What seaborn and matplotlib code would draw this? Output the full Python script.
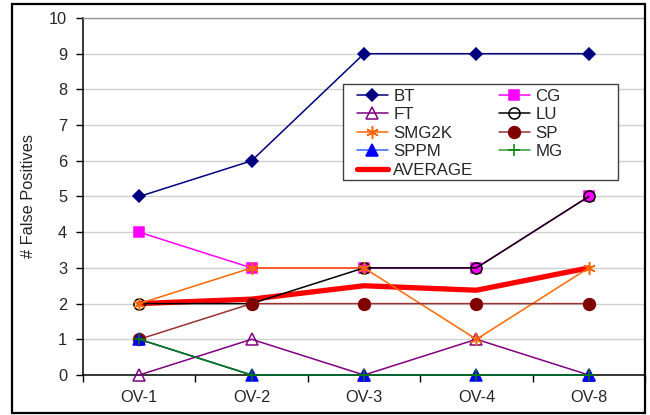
import matplotlib
matplotlib.use('Agg')
import matplotlib.pyplot as plt
from matplotlib.patches import Rectangle
from matplotlib.ticker import FixedLocator
import seaborn as sns

sns.set_style('white')
plt.rcParams['font.family'] = ['Liberation Sans', 'DejaVu Sans']

# data
runs = ['OV-1', 'OV-2', 'OV-3', 'OV-4', 'OV-8']
bt = [5, 6, 9, 9, 9]
cg = [4, 3, 3, 3, 5]
ft = [0, 1, 0, 1, 0]
lu = [2, 2, 3, 3, 5]
smg2k = [2, 3, 3, 1, 3]
sp = [1, 2, 2, 2, 2]
sppm = [1, 0, 0, 0, 0]
mg = [1, 0, 0, 0, 0]
average = [2.0, 2.125, 2.5, 2.375, 3.0]

FS = 11.8
W, H = 650, 415

fig = plt.figure(figsize=(6.5, 4.15), dpi=100)
ax = fig.add_axes([83 / W, 40 / H, 562 / W, 357 / H])

# (name, values, line color, marker, marker size, face, edge)
series = [
    ('BT', bt, '#000080', 'D', 6.5, '#000080', '#000080'),
    ('CG', cg, '#ff00ff', 's', 7.5, '#ff00ff', '#ff00ff'),
    ('FT', ft, '#800080', '^', 8, 'none', '#800080'),
    ('LU', lu, '#000000', 'o', 8, 'none', '#000000'),
    ('SMG2K', smg2k, '#ff6600', (6, 2, 0), 9, '#ff6600', '#ff6600'),
    ('SP', sp, '#993333', 'o', 8.5, '#800000', '#800000'),
    ('SPPM', sppm, '#3366ff', '^', 8.5, '#0000ff', '#0000ff'),
    ('MG', mg, '#339933', '+', 8, '#008000', '#008000'),
]

sns.lineplot(x=runs, y=average, ax=ax, color='#ff0000', lw=3.8,
             label='AVERAGE', legend=False, errorbar=None, sort=False,
             zorder=2.8, clip_on=False)

for name, vals, col, mk, ms, fc, ec in series:
    sns.lineplot(x=runs, y=vals, ax=ax, color=col, lw=1.1, marker=mk,
                 markersize=ms, markerfacecolor=fc, markeredgecolor=ec,
                 markeredgewidth=1.1, label=name, legend=False,
                 errorbar=None, sort=False, zorder=3, clip_on=False)

# data lines for MG / SPPM are darker than their legend swatches
for line in ax.get_lines():
    if line.get_label() == 'MG':
        line.set_color('#008000')
    if line.get_label() == 'SPPM':
        line.set_color('#0000ff')

ax.set_xlim(-0.5, 4.5)
ax.set_ylim(0, 10)
ax.set_yticks(range(0, 11))
ax.xaxis.set_minor_locator(FixedLocator([-0.5, 0.5, 1.5, 2.5, 3.5, 4.5]))
ax.tick_params(axis='x', which='major', length=0, pad=11, labelsize=FS)
ax.tick_params(axis='x', which='minor', length=5, width=1, direction='out',
               bottom=True, color='black')
ax.tick_params(axis='y', which='major', length=5, width=1, direction='out',
               left=True, pad=6.5, labelsize=FS, color='black')
ax.yaxis.grid(True, color='#d0d0d0', lw=1)
ax.set_axisbelow(True)

for side in ['left', 'bottom']:
    ax.spines[side].set_color('black')
    ax.spines[side].set_linewidth(1.1)
ax.spines['top'].set_color('#999999')
ax.spines['top'].set_linewidth(1)
ax.spines['right'].set_visible(False)

ax.set_xlabel('')
ax.set_ylabel('# False Positives', fontsize=FS)
ax.yaxis.set_label_coords((36 - 83) / 562, 0.5)

# legend box with extra empty room on the right, like the original
box = Rectangle((343 / W, 1 - 180 / H), 275 / W, 96 / H, transform=fig.transFigure,
                facecolor='white', edgecolor='#404040', lw=1, zorder=4, clip_on=False)
ax.add_patch(box)

handles, labels = ax.get_legend_handles_labels()
lookup = dict(zip(labels, handles))
order = ['BT', 'FT', 'SMG2K', 'SPPM', 'AVERAGE', 'CG', 'LU', 'SP', 'MG']
leg_handles = []
for name in order:
    h = lookup[name]
    leg_handles.append(h)
leg = ax.legend(leg_handles, order, ncol=2, loc='upper left',
                bbox_to_anchor=(357 / W, 1 - 89 / H), bbox_transform=fig.transFigure,
                frameon=False, borderpad=0, borderaxespad=0, fontsize=12.2,
                handlelength=1.8, handletextpad=0.35, columnspacing=1.5,
                labelspacing=0.2)
leg.set_zorder(5)
# legend swatches for SPPM/MG use the lighter line colours
for h, name in zip(leg.legend_handles, order):
    if name == 'SPPM':
        h.set_color('#3366ff')
        h.set_markerfacecolor('#0000ff')
        h.set_markeredgecolor('#0000ff')
    if name == 'MG':
        h.set_color('#339933')
        h.set_markeredgecolor('#008000')

fig.add_artist(Rectangle((12 / W, 1 - 413 / H), 633 / W, 409 / H,
                         transform=fig.transFigure, fill=False,
                         edgecolor='black', lw=1.6))

fig.savefig('out.png', dpi=100)
